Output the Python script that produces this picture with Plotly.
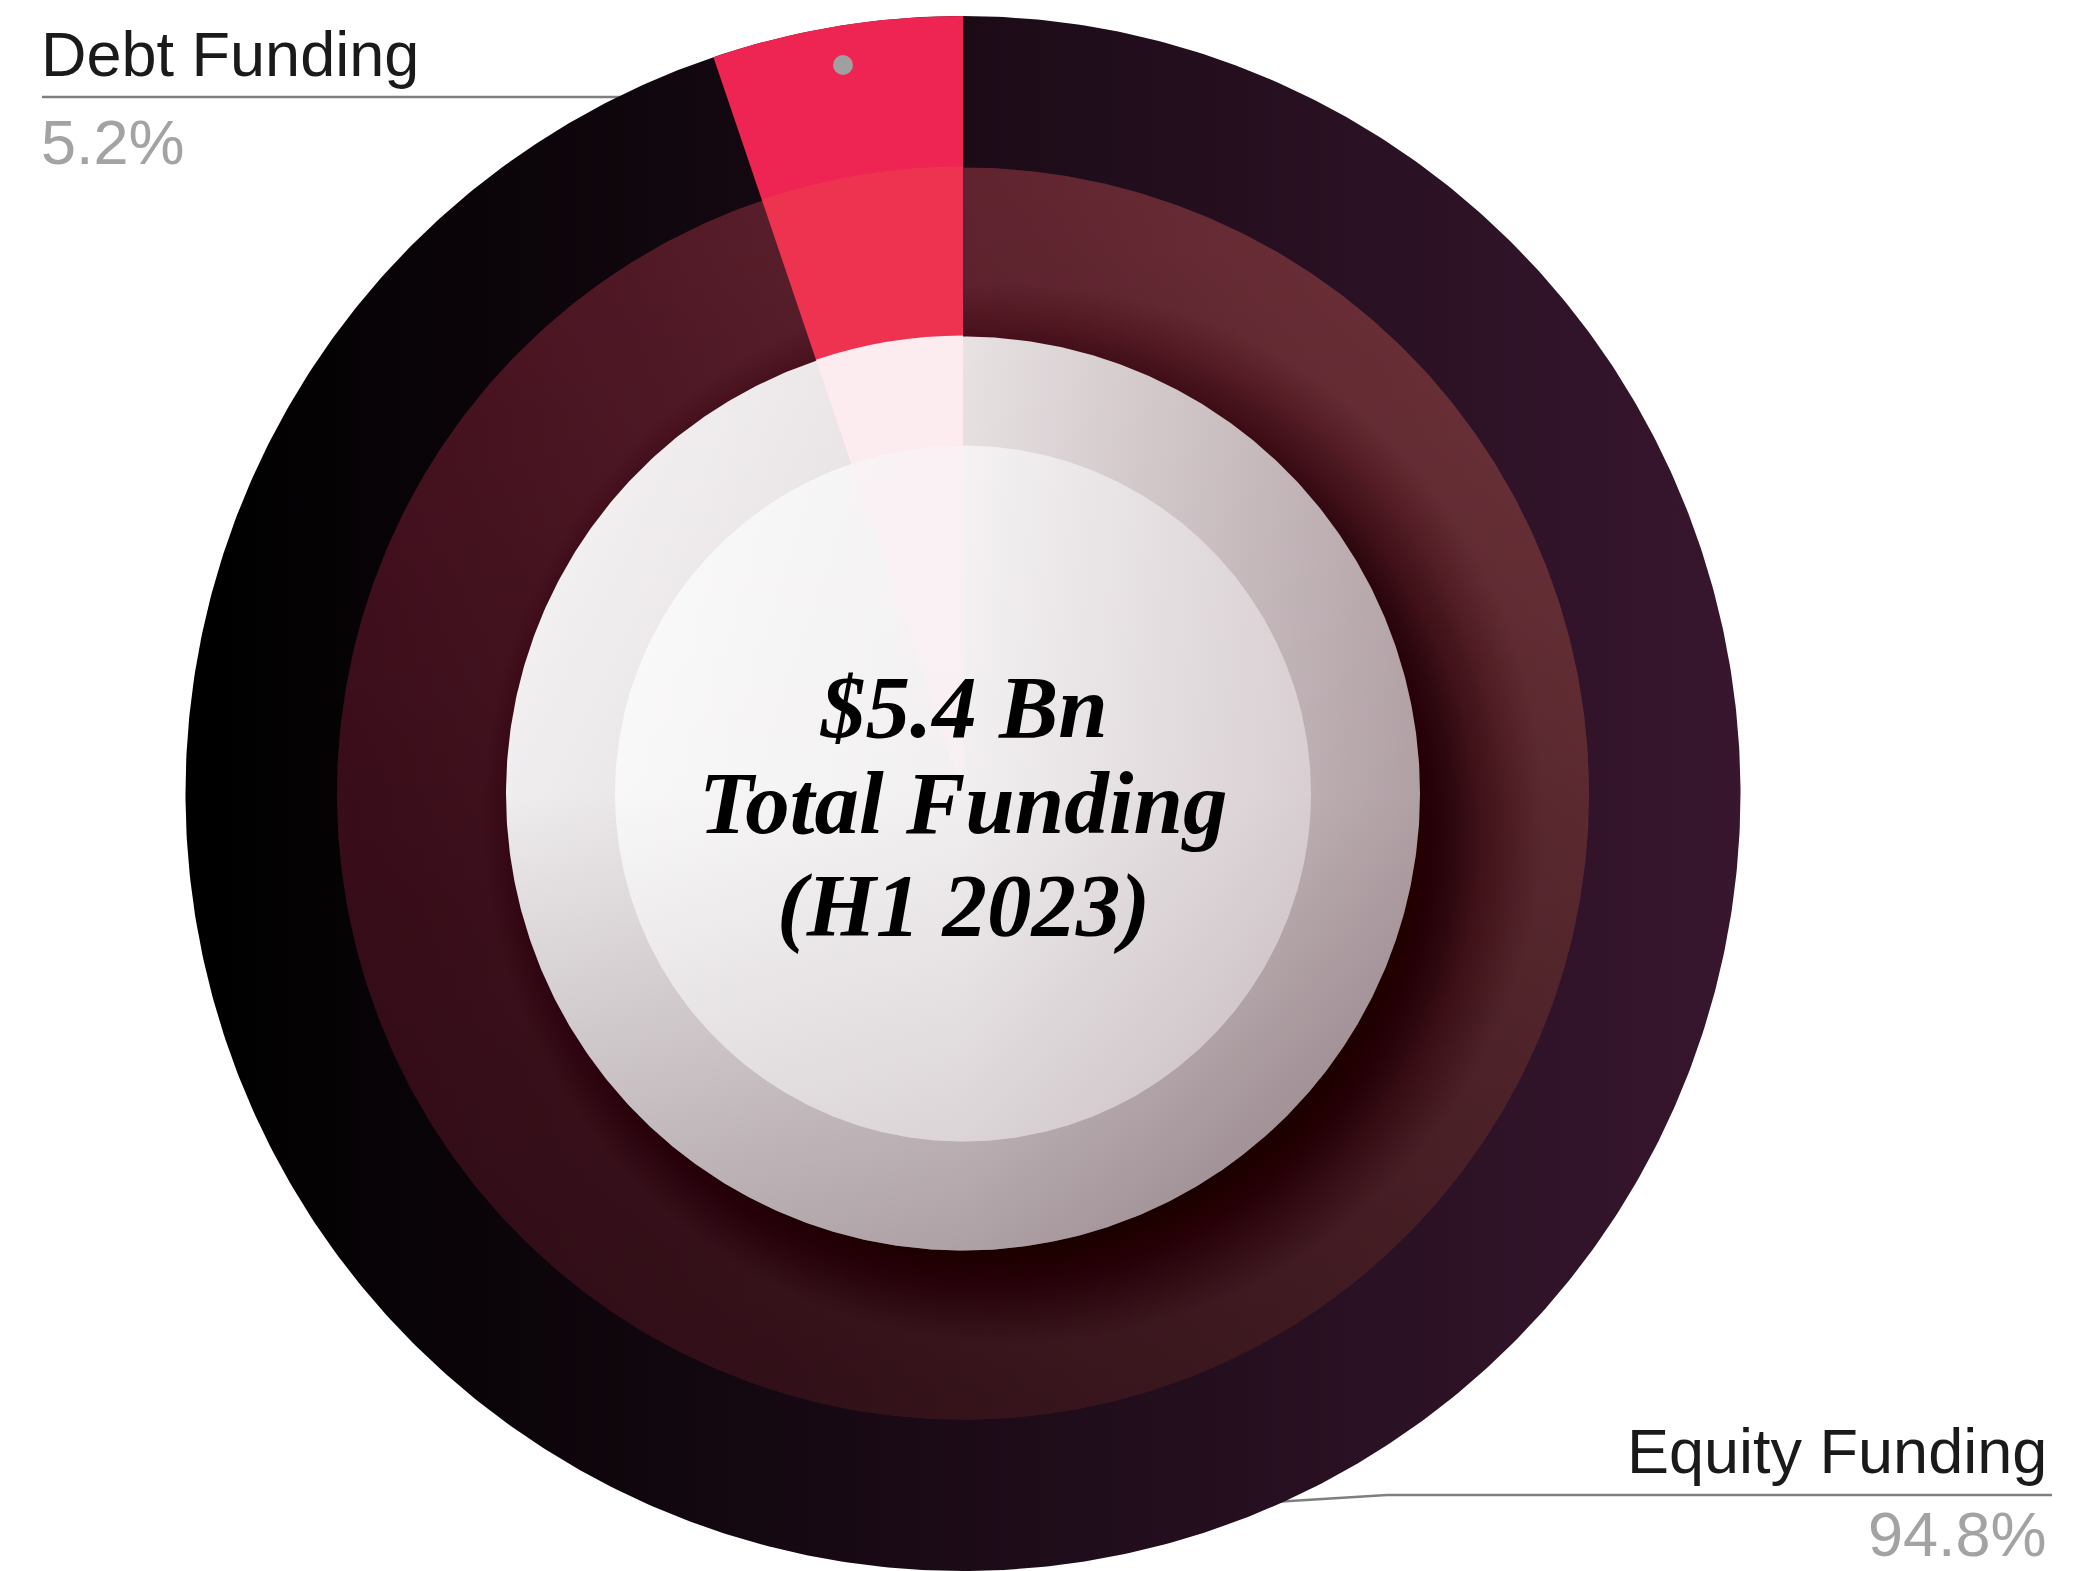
import math
import numpy as np
import plotly.graph_objects as go

# ---------------- data ----------------
categories = ["Debt Funding", "Equity Funding"]
shares = [5.2, 94.8]
center_lines = ["$5.4 Bn", "Total Funding", "(H1 2023)"]

# ---------------- geometry / style ----------------
W, H = 2090, 1571
CX, CY = 963.0, 793.5
R1, R2, R3, R4 = 777.5, 626.0, 457.0, 348.0

fig = go.Figure()


def circle(cx, cy, r, n=721):
    t = np.linspace(0, 2 * np.pi, n)
    return cx + r * np.cos(t), cy + r * np.sin(t)


def disk(r, gtype=None, cs=None, fillcolor=None, cx=CX, cy=CY):
    x, y = circle(cx, cy, r)
    kw = {}
    if gtype:
        if gtype == "horizontal":
            start, stop = cx - r, cx + r
        else:
            start, stop = cy - r, cy + r
        kw["fillgradient"] = dict(type=gtype, colorscale=cs, start=start, stop=stop)
    else:
        kw["fillcolor"] = fillcolor
    fig.add_trace(go.Scatter(x=x, y=y, mode="lines", fill="toself",
                             line=dict(width=0, color="rgba(0,0,0,0)"),
                             hoverinfo="skip", showlegend=False, **kw))


# outer ring base (equity gradient)
disk(R1, "horizontal", [[0, "rgb(0,0,0)"], [1, "rgb(55,22,46)"]])
# second ring
disk(R2, "horizontal", [[0, "rgb(73,16,32)"], [1, "rgb(118,55,62)"]])
disk(R2, "vertical", [[0, "rgba(10,2,6,0)"], [1, "rgba(10,2,6,0.5)"]])

# soft (blurred) drop shadow of the third ring, built from thin translucent circles
SH_DX, SH_DY, SH_SIG, SH_A = 50.0, 20.0, 38.0, 0.42


def _G(s):
    phi = 0.5 * (1 + math.erf((-s / SH_SIG) / math.sqrt(2)))
    return -math.log(1 - SH_A * phi)


step = 3.0
s_grid = np.arange(-54.0, 126.0, step)
for i, s in enumerate(s_grid):
    g_next = _G(s + step) if i < len(s_grid) - 1 else 0.0
    a = 1 - math.exp(-(_G(s) - g_next))
    disk(R3 + s, fillcolor=f"rgba(24,12,16,{a:.4f})", cx=CX + SH_DX, cy=CY + SH_DY)

# third ring
disk(R3, "horizontal", [[0, "rgb(248,247,248)"], [0.5, "rgb(232,226,227)"], [1, "rgb(182,166,170)"]])
disk(R3, "vertical", [[0, "rgba(70,45,55,0)"], [0.5, "rgba(70,45,55,0.05)"], [1, "rgba(70,45,55,0.36)"]])
# inner disk
disk(R4, "horizontal", [[0, "rgb(251,251,251)"], [0.5, "rgb(244,242,243)"], [1, "rgb(218,209,212)"]])
disk(R4, "vertical", [[0, "rgba(120,95,105,0)"], [0.5, "rgba(120,95,105,0.02)"], [1, "rgba(120,95,105,0.2)"]])


# ---------------- pie slices (data) ----------------
# equity first + clockwise -> the debt slice ends at 12 o'clock, on its left side
pie_labels = categories[::-1]
pie_values = shares[::-1]


def pie(r, hole_r, debt_color):
    fig.add_trace(go.Pie(
        labels=pie_labels, values=pie_values, sort=False,
        direction="clockwise", rotation=0,
        hole=hole_r / r,
        marker=dict(colors=["rgba(0,0,0,0)", debt_color], line=dict(width=0)),
        textinfo="none", hoverinfo="skip", showlegend=False,
        domain=dict(x=[(CX - r) / W, (CX + r) / W],
                    y=[max(0.0, (H - (CY + r)) / H), (H - (CY - r)) / H])))


pie(R1, R2, "#EE2553")
pie(R2 + 1, R3, "#EE3351")
pie(R3 + 1, R4, "#FCEBEF")
pie(R4 + 1, 0, "rgba(255,240,244,0.45)")

# ---------------- labels ----------------
LBL_FONT = "Liberation Sans, Arial, sans-serif"
SERIF = "Liberation Serif, Times New Roman, serif"
shapes = [
    dict(type="path", path="M 42,97 L 720,97", xref="x", yref="y",
         line=dict(color="#7F7F7F", width=2.5), layer="below"),
    dict(type="path", path="M 1240,1504 L 1387,1495 L 2052,1495", xref="x", yref="y",
         line=dict(color="#7F7F7F", width=2.5), layer="below"),
    dict(type="circle", xref="x", yref="y", x0=833, x1=853, y0=55, y1=75,
         fillcolor="#A0A0A0", line=dict(width=0), layer="above"),
]

annotations = [
    dict(x=39, y=54, text=categories[0], xanchor="left", yanchor="middle",
         font=dict(family=LBL_FONT, size=63, color="#1A1A1A")),
    dict(x=39, y=142, text=f"{shares[0]}%", xanchor="left", yanchor="middle",
         font=dict(family=LBL_FONT, size=63, color="#A3A3A3")),
    dict(x=2049, y=1451, text=categories[1], xanchor="right", yanchor="middle",
         font=dict(family=LBL_FONT, size=63, color="#1A1A1A")),
    dict(x=2049, y=1534, text=f"{shares[1]}%", xanchor="right", yanchor="middle",
         font=dict(family=LBL_FONT, size=63, color="#A3A3A3")),
]
for line_text, yc in zip(center_lines, [707, 803, 905]):
    annotations.append(dict(x=CX, y=yc, text=f"<b><i>{line_text}</i></b>",
                            xanchor="center", yanchor="middle",
                            font=dict(family=SERIF, size=89, color="#000000")))
for a in annotations:
    a.update(xref="x", yref="y", showarrow=False)

fig.update_layout(
    width=W, height=H, margin=dict(l=0, r=0, t=0, b=0),
    paper_bgcolor="white", plot_bgcolor="white",
    xaxis=dict(range=[0, W], visible=False, fixedrange=True),
    yaxis=dict(range=[H, 0], visible=False, fixedrange=True),
    showlegend=False, shapes=shapes, annotations=annotations,
)

fig.write_html("out.html", config={"displayModeBar": False},
               post_script="document.body.style.margin='0';document.body.style.overflow='hidden';")
